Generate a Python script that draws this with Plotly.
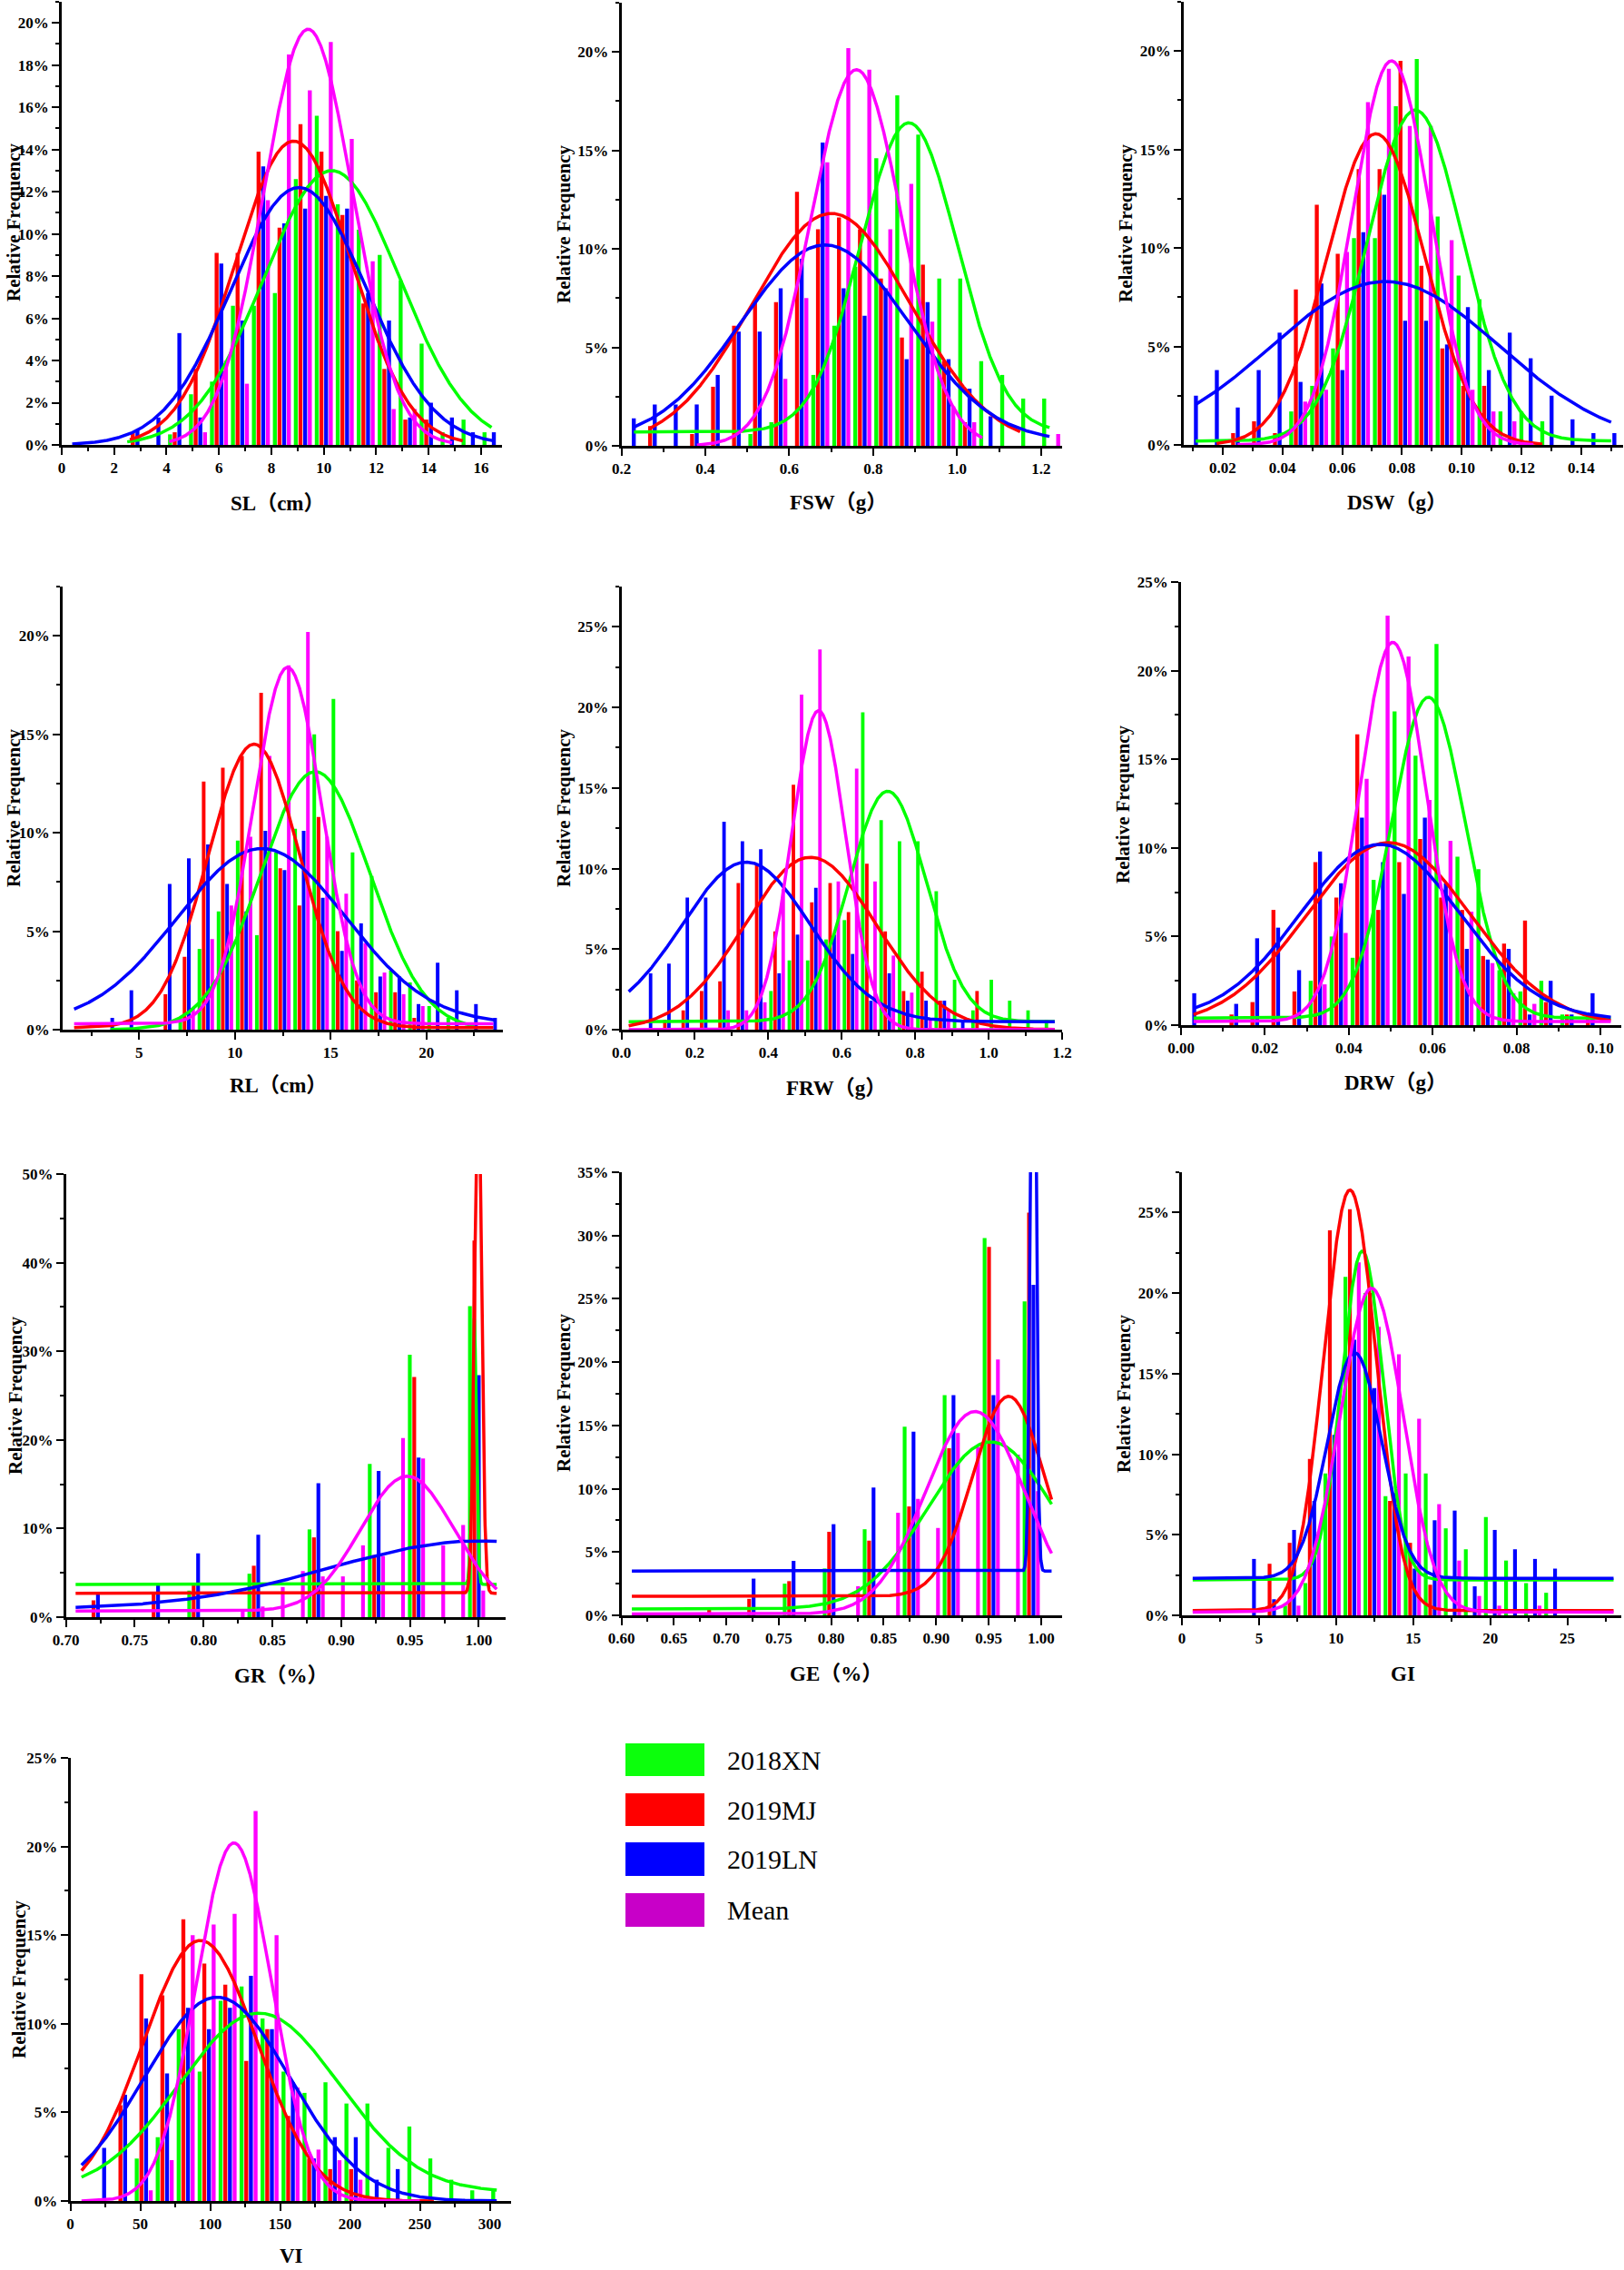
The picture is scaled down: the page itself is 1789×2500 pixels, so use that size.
import numpy as np
import plotly.graph_objects as go

SERIES = ["2018XN", "2019MJ", "2019LN", "Mean"]

# ---------------- data (relative frequency, %) ----------------
# SL (cm)
SL_BINS = [2.8, 3.6, 4.4, 5.2, 6.0, 6.8, 7.6, 8.4, 9.2, 10.0, 10.8, 11.6, 12.4, 13.2, 14.0, 14.8, 15.6, 16.4]
SL_XN = [0, 0, 0.5, 2.4, 3.0, 6.6, 6.6, 7.2, 12.6, 15.6, 11.4, 10.2, 9.0, 7.8, 4.8, 0.6, 1.2, 0.6]
SL_MJ = [0.6, 0, 0.6, 3.6, 9.1, 9.1, 13.9, 10.3, 15.2, 13.9, 10.9, 6.7, 3.6, 1.2, 1.2, 0, 0, 0]
SL_LN = [0.7, 1.3, 5.3, 1.3, 8.6, 5.9, 13.2, 10.5, 11.2, 11.8, 11.2, 7.2, 5.9, 1.3, 2.0, 1.3, 0.6, 0.6]
SL_MEAN = [0, 0, 0, 0.6, 4.0, 2.9, 11.6, 18.5, 16.8, 19.1, 14.5, 8.7, 1.7, 1.7, 0, 0, 0, 0]
# fitted normal curves: [baseline, height, centre, sd, x from, x to]
SL_FIT = [[0, 13.0, 10.3, 2.6, 2.5, 16.4], [0, 14.4, 8.85, 2.2, 2.6, 15.3],
          [0, 12.2, 9.05, 2.58, 0.4, 16.5], [0, 19.7, 9.4, 1.7, 4.1, 14.9]]

# FSW (g)
FSW_BINS = [0.224, 0.274, 0.324, 0.374, 0.424, 0.474, 0.524, 0.574, 0.624, 0.674, 0.724,
            0.774, 0.824, 0.874, 0.924, 0.974, 1.024, 1.074, 1.124, 1.174, 1.224]
FSW_XN = [0, 0, 0, 0, 0, 0, 0.6, 1.2, 0, 3.6, 6.1, 9.1, 14.6, 17.8, 15.8, 8.5, 8.5, 4.3, 3.6, 2.4, 2.4]
FSW_MJ = [0, 1.0, 0, 0.6, 3.0, 6.1, 7.3, 7.3, 12.9, 11.0, 11.6, 11.0, 8.5, 5.5, 9.2, 4.3, 1.2, 0, 0, 0, 0]
FSW_LN = [1.4, 2.1, 2.1, 2.1, 3.6, 5.8, 5.8, 8.0, 9.5, 15.4, 8.0, 6.6, 8.0, 4.4, 7.3, 4.4, 2.9, 1.5, 0, 0, 0]
FSW_MEAN = [0, 0, 0, 0, 0, 0, 0, 3.4, 7.5, 14.4, 20.2, 19.1, 11.0, 13.3, 6.3, 2.0, 1.2, 0, 0, 0, 0.6]
FSW_FIT = [[0.7, 15.7, 0.885, 0.115, 0.23, 1.22], [0, 11.8, 0.70, 0.19, 0.27, 1.15],
           [0.2, 10.0, 0.685, 0.20, 0.23, 1.22], [0, 19.1, 0.76, 0.108, 0.38, 1.06]]

# DSW (g)
DSW_BINS = [0.0103, 0.0173, 0.0243, 0.0313, 0.0383, 0.0453, 0.0523, 0.0593, 0.0663, 0.0733, 0.0803,
            0.0873, 0.0943, 0.1013, 0.1083, 0.1153, 0.1223, 0.1293, 0.1363, 0.1433, 0.1503]
DSW_XN = [0, 0, 0, 0, 0, 1.7, 3.0, 4.9, 10.5, 10.5, 17.2, 19.6, 11.6, 8.6, 7.4, 1.7, 1.7, 1.2, 0, 0, 0]
DSW_MJ = [0, 0, 0.6, 1.2, 0.6, 7.9, 12.2, 9.7, 14.0, 14.0, 19.5, 9.1, 4.9, 3.0, 3.0, 0, 0, 0, 0, 0, 0]
DSW_LN = [2.5, 3.8, 1.9, 3.8, 5.7, 3.2, 8.2, 3.8, 10.8, 12.7, 6.3, 6.3, 5.1, 7.0, 3.8, 5.7, 4.4, 2.5, 1.3, 0.6, 0.6]
DSW_MEAN = [0, 0, 0, 0, 0, 2.2, 2.8, 9.8, 17.4, 19.1, 16.2, 16.2, 10.4, 2.8, 1.7, 1.2, 0, 0, 0, 0, 0]
DSW_FIT = [[0.2, 16.8, 0.0845, 0.016, 0.011, 0.15], [0, 15.8, 0.0713, 0.0163, 0.018, 0.127],
           [0, 8.3, 0.0745, 0.038, 0.011, 0.15], [0, 19.5, 0.0765, 0.013, 0.025, 0.124]]

# RL (cm)
RL_BINS = [3.48, 4.48, 5.48, 6.48, 7.48, 8.48, 9.48, 10.48, 11.48, 12.48, 13.48,
           14.48, 15.48, 16.48, 17.48, 18.48, 19.48, 20.48, 21.48, 22.48, 23.48]
RL_XN = [0, 0, 0, 0, 0.6, 4.1, 6.0, 9.6, 4.8, 9.0, 10.2, 15.0, 16.8, 9.0, 7.8, 3.0, 2.4, 1.2, 0.6, 0, 0]
RL_MJ = [0, 0, 0, 1.8, 3.7, 12.6, 13.3, 13.9, 17.1, 8.2, 6.3, 10.8, 5.0, 2.5, 1.9, 1.9, 0.6, 0, 0, 0, 0]
RL_LN = [0.6, 2.0, 0, 7.4, 8.7, 9.4, 7.4, 6.0, 10.1, 8.1, 10.1, 6.7, 4.0, 5.4, 2.7, 2.7, 1.3, 3.4, 2.0, 1.3, 0.6]
RL_MEAN = [0, 0, 0, 0, 1.1, 4.6, 6.3, 9.8, 13.9, 18.5, 20.2, 9.8, 6.9, 4.4, 2.9, 1.8, 1.2, 0, 0, 0, 0]
RL_FIT = [[0, 13.1, 14.2, 2.85, 3.5, 22.5], [0.1, 14.4, 11.0, 2.4, 1.6, 23.5],
          [0.3, 8.9, 11.4, 4.4, 1.6, 23.6], [0.3, 18.1, 12.75, 1.8, 1.6, 23.5]]

# FRW (g)
FRW_BINS = [0.074, 0.124, 0.174, 0.224, 0.274, 0.324, 0.374, 0.424, 0.474, 0.524, 0.574, 0.624,
            0.674, 0.724, 0.774, 0.824, 0.874, 0.924, 0.974, 1.024, 1.074, 1.124, 1.174]
FRW_XN = [0, 0, 0, 0, 0, 0, 0, 2.4, 4.3, 4.3, 5.6, 6.8, 19.7, 13.0, 11.7, 11.7, 8.6, 3.1, 1.2, 3.1, 1.8, 1.2, 0.6]
FRW_MJ = [0, 0.6, 1.2, 2.4, 3.0, 9.1, 10.2, 6.1, 15.2, 7.9, 9.1, 7.3, 10.3, 6.1, 2.4, 3.6, 1.8, 0, 2.4, 0, 0, 0, 0]
FRW_LN = [3.5, 4.1, 8.2, 8.2, 12.9, 11.7, 11.2, 3.5, 5.9, 8.8, 5.9, 4.7, 1.8, 3.5, 1.8, 1.8, 1.8, 0.6, 0, 0, 0, 0, 0]
FRW_MEAN = [0, 0, 0, 0, 1.2, 1.2, 1.7, 8.7, 20.8, 23.6, 9.2, 16.2, 9.2, 4.6, 2.3, 0.6, 1.2, 0, 0, 0, 0, 0, 0]
FRW_FIT = [[0.5, 14.3, 0.725, 0.105, 0.02, 1.18], [0, 10.7, 0.515, 0.18, 0.02, 1.18],
           [0.5, 9.9, 0.34, 0.175, 0.02, 1.18], [0, 19.8, 0.537, 0.074, 0.02, 1.18]]

# DRW (g)
DRW_BINS = [0.0026, 0.0076, 0.0126, 0.0176, 0.0226, 0.0276, 0.0326, 0.0376, 0.0426, 0.0476,
            0.0526, 0.0576, 0.0626, 0.0676, 0.0726, 0.0776, 0.0826, 0.0876, 0.0926, 0.0976]
DRW_XN = [0, 0, 0, 0, 0, 0, 2.5, 5.0, 3.8, 8.2, 17.7, 15.2, 21.5, 9.5, 8.8, 3.1, 1.9, 2.5, 0.6, 0]
DRW_MJ = [0, 0, 0.6, 1.3, 6.5, 1.9, 9.2, 7.2, 16.4, 6.5, 9.2, 10.5, 7.2, 6.5, 3.9, 4.6, 5.9, 1.3, 0.6, 0.6]
DRW_LN = [1.8, 0, 1.2, 4.9, 5.5, 3.1, 9.8, 8.0, 11.7, 9.2, 7.4, 11.7, 8.0, 4.3, 3.7, 4.3, 0.6, 2.5, 0.6, 1.8]
DRW_MEAN = [0, 0, 0, 0, 0, 0, 2.3, 5.2, 13.9, 23.1, 20.8, 12.7, 10.4, 6.4, 3.5, 1.8, 1.2, 0, 0, 0]
DRW_FIT = [[0.4, 18.1, 0.059, 0.0088, 0.003, 0.1025], [0, 10.3, 0.0495, 0.0195, 0.003, 0.1025],
           [0.3, 9.9, 0.0475, 0.019, 0.003, 0.1025], [0.2, 21.4, 0.0505, 0.008, 0.003, 0.1025]]

# GR (%)
GR_BINS = [0.7216, 0.7362, 0.7507, 0.7653, 0.7799, 0.7944, 0.8090, 0.8236, 0.8381, 0.8527,
           0.8673, 0.8818, 0.8964, 0.9110, 0.9256, 0.9401, 0.9547, 0.9693, 0.9838, 0.9984]
GR_XN = [0, 0, 0, 0, 0, 3.0, 0, 0, 4.9, 0, 0, 9.9, 0, 0, 17.3, 0, 29.6, 0, 0, 35.1]
GR_MJ = [1.9, 0, 0, 2.6, 0, 3.6, 0, 0, 5.8, 0, 0, 9.0, 0, 0, 7.0, 0, 27.1, 0, 0, 42.5]
GR_LN = [2.6, 0, 0, 3.6, 0, 7.2, 0, 0, 9.3, 0, 0, 15.1, 0, 0, 16.5, 0, 18.0, 0, 0, 27.3]
GR_MEAN = [0, 0, 0, 0, 0, 0, 0, 0.7, 1.2, 3.4, 5.2, 4.6, 4.6, 8.1, 6.9, 20.2, 17.9, 8.1, 10.4, 3.0]
GR_FIT = [[3.7, 30.0, 0.9966, 0.0016, 0.707, 1.013], [2.7, 60.0, 0.9995, 0.0025, 0.707, 1.013],
          [0.9, 7.7, 1.0, 0.108, 0.707, 1.013], [0.7, 15.2, 0.948, 0.034, 0.707, 1.013]]

# GE (%)
GE_BINS = [0.6858, 0.7049, 0.7239, 0.7430, 0.7620, 0.7811, 0.8001, 0.8192, 0.8382,
           0.8573, 0.8763, 0.8954, 0.9144, 0.9335, 0.9525, 0.9716, 0.9906]
GE_XN = [0, 0, 0, 0, 2.5, 0, 3.7, 0, 6.8, 0, 14.9, 0, 17.4, 0, 29.8, 0, 24.8]
GE_MJ = [0.6, 0, 1.3, 0, 2.7, 0, 6.6, 0, 5.9, 0, 8.6, 0, 13.2, 0, 29.1, 0, 31.8]
GE_LN = [0, 0, 2.9, 0, 4.3, 0, 7.2, 0, 10.1, 0, 14.5, 0, 17.4, 0, 17.4, 0, 26.1]
GE_MEAN = [0, 0, 0, 0, 0, 0, 0, 2.3, 0, 8.1, 9.2, 6.9, 14.4, 13.3, 20.2, 12.7, 9.8]
GE_FIT = [[0.5, 13.2, 0.952, 0.06, 0.61, 1.01], [1.5, 15.8, 0.969, 0.034, 0.61, 1.01],
          [3.5, 60.0, 0.9925, 0.0025, 0.61, 1.01], [0.1, 16.0, 0.937, 0.047, 0.61, 1.01]]

# GI
GI_BINS = [4.53, 5.83, 7.13, 8.44, 9.74, 11.04, 12.34, 13.64, 14.95, 16.25, 17.55, 18.85, 20.15, 21.46, 22.76, 24.06]
GI_XN = [0, 0, 0.6, 2.0, 8.8, 21.0, 20.0, 7.4, 8.8, 8.8, 5.4, 4.1, 6.1, 3.4, 2.0, 1.4]
GI_MJ = [0, 3.2, 4.5, 9.7, 23.9, 25.2, 20.0, 7.1, 4.5, 1.9, 0, 0, 0, 0, 0, 0]
GI_LN = [3.5, 1.0, 5.3, 7.1, 11.2, 17.1, 14.1, 7.6, 2.9, 5.9, 6.5, 1.8, 5.3, 4.1, 3.5, 2.9]
GI_MEAN = [0, 0, 0.6, 5.2, 12.7, 21.9, 17.9, 16.2, 12.2, 6.9, 3.4, 1.2, 0.6, 0, 0.6, 0]
GI_FIT = [[2.2, 20.4, 11.7, 1.35, 0.7, 28.0], [0.3, 26.1, 10.9, 1.7, 0.7, 28.0],
          [2.3, 14.0, 11.2, 1.75, 0.7, 28.0], [0.2, 20.1, 12.3, 2.05, 0.7, 28.0]]

# VI
VI_BINS = [22.5, 37.5, 52.5, 67.5, 82.5, 97.5, 112.5, 127.5, 142.5, 157.5,
           172.5, 187.5, 202.5, 217.5, 232.5, 247.5, 262.5, 277.5, 292.5, 307.5]
VI_XN = [0, 0, 2.4, 3.6, 9.7, 7.3, 11.3, 12.1, 10.3, 7.3, 6.1, 6.7, 5.5, 5.5, 3.0, 4.2, 2.4, 1.2, 0.6, 0.6]
VI_MJ = [0, 5.4, 12.8, 11.6, 15.9, 13.4, 12.2, 7.9, 9.7, 4.8, 2.4, 1.8, 1.8, 0, 0, 0, 0, 0, 0, 0]
VI_LN = [3.0, 6.0, 10.3, 7.2, 10.9, 9.7, 10.9, 12.7, 9.7, 6.7, 2.4, 3.6, 3.6, 1.2, 1.8, 0, 0, 0, 0, 0]
VI_MEAN = [0, 0, 0.6, 2.3, 15.0, 15.6, 16.2, 22.0, 15.0, 6.4, 2.9, 2.3, 1.2, 0, 0, 0, 0, 0, 0, 0]
VI_FIT = [[0.5, 10.1, 135, 57, 8, 305], [0, 14.7, 93, 41, 8, 260],
          [0, 11.5, 105, 52, 8, 305], [0, 20.2, 117, 27, 8, 250]]

PANELS = [
    ("SL（cm）", SL_BINS, [SL_XN, SL_MJ, SL_LN, SL_MEAN], SL_FIT),
    ("FSW（g）", FSW_BINS, [FSW_XN, FSW_MJ, FSW_LN, FSW_MEAN], FSW_FIT),
    ("DSW（g）", DSW_BINS, [DSW_XN, DSW_MJ, DSW_LN, DSW_MEAN], DSW_FIT),
    ("RL（cm）", RL_BINS, [RL_XN, RL_MJ, RL_LN, RL_MEAN], RL_FIT),
    ("FRW（g）", FRW_BINS, [FRW_XN, FRW_MJ, FRW_LN, FRW_MEAN], FRW_FIT),
    ("DRW（g）", DRW_BINS, [DRW_XN, DRW_MJ, DRW_LN, DRW_MEAN], DRW_FIT),
    ("GR（%）", GR_BINS, [GR_XN, GR_MJ, GR_LN, GR_MEAN], GR_FIT),
    ("GE（%）", GE_BINS, [GE_XN, GE_MJ, GE_LN, GE_MEAN], GE_FIT),
    ("GI", GI_BINS, [GI_XN, GI_MJ, GI_LN, GI_MEAN], GI_FIT),
    ("VI", VI_BINS, [VI_XN, VI_MJ, VI_LN, VI_MEAN], VI_FIT),
]

# ---------------- styles / geometry ----------------
W, H = 1789, 2500
FONT = "Liberation Serif, Times New Roman, Noto Sans CJK SC, serif"
BAR_COLORS = ["#00FF00", "#FF0000", "#0000FF", "#FF00FF"]
LEGEND_COLORS = ["#0CFF0C", "#FF0000", "#0000FF", "#C800C8"]

# plot box in px: (left, right, top, bottom), axis ranges and ticks, title centres
GEOM = [
    dict(box=(68, 553, 2, 490), xr=[0, 16.8], yr=[0, 21], xd=2, x0=0, xm=1, xf="", yd=2, ym=1,
         xt=(306, 555), yt=(15, 245)),
    dict(box=(684.5, 1170, 3, 491), xr=[0.2, 1.25], yr=[0, 22.5], xd=0.2, x0=0, xm=0.1, xf=".1f", yd=5, ym=2.5,
         xt=(923, 553), yt=(621, 247)),
    dict(box=(1304, 1788, 2, 490), xr=[0.007, 0.154], yr=[0, 22.5], xd=0.02, x0=0, xm=0.01, xf=".2f", yd=5, ym=2.5,
         xt=(1539, 553), yt=(1240, 246)),
    dict(box=(69, 554, 646, 1134), xr=[1.0, 24.0], yr=[0, 22.5], xd=5, x0=0, xm=2.5, xf="", yd=5, ym=2.5,
         xt=(306, 1196), yt=(15, 890)),
    dict(box=(684.5, 1170, 646, 1134), xr=[0, 1.2], yr=[0, 27.5], xd=0.2, x0=0, xm=0.1, xf=".1f", yd=5, ym=2.5,
         xt=(921, 1198), yt=(621, 890)),
    dict(box=(1301, 1786, 641, 1129), xr=[0, 0.105], yr=[0, 25], xd=0.02, x0=0, xm=0.01, xf=".2f", yd=5, ym=2.5,
         xt=(1537, 1192), yt=(1237, 886)),
    dict(box=(72.7, 557, 1293, 1781), xr=[0.70, 1.0195], yr=[0, 50], xd=0.05, x0=0.7, xm=0.025, xf=".2f", yd=10, ym=5,
         xt=(310, 1845), yt=(17, 1537)),
    dict(box=(684.5, 1170, 1291, 1779), xr=[0.6, 1.02], yr=[0, 35], xd=0.05, x0=0.6, xm=0.025, xf=".2f", yd=5, ym=2.5,
         xt=(921, 1843), yt=(621, 1534)),
    dict(box=(1302, 1786, 1291, 1779), xr=[0, 28.5], yr=[0, 27.5], xd=5, x0=0, xm=2.5, xf="", yd=5, ym=2.5,
         xt=(1545, 1843), yt=(1238, 1535)),
    dict(box=(77.5, 562.6, 1936, 2424), xr=[0, 315], yr=[0, 25], xd=50, x0=0, xm=25, xf="", yd=5, ym=2.5,
         xt=(321, 2484), yt=(21, 2180)),
]

fig = go.Figure()
for i, (title, bins, vals, fits) in enumerate(PANELS, start=1):
    key = "" if i == 1 else str(i)
    for s in range(4):
        fig.add_trace(go.Bar(x=bins, y=vals[s], name=SERIES[s], marker=dict(color=BAR_COLORS[s], line=dict(width=0)),
                             xaxis="x" + key, yaxis="y" + key, showlegend=False, hoverinfo="skip"))
    for s in range(4):
        base, amp, cen, sd, xa, xb = fits[s]
        xs = np.linspace(xa, xb, 2000)
        ys = base + amp * np.exp(-0.5 * ((xs - cen) / sd) ** 2)
        fig.add_trace(go.Scatter(x=xs, y=ys, mode="lines", name=SERIES[s] + " fit",
                                 line=dict(color=BAR_COLORS[s], width=3.5),
                                 xaxis="x" + key, yaxis="y" + key, showlegend=False, hoverinfo="skip"))

tickfont = dict(family=FONT, size=17, color="black", weight="bold")
common = dict(showline=True, linecolor="black", linewidth=2.5, ticks="outside", ticklen=8, tickwidth=2,
              tickcolor="black", showgrid=False, zeroline=False, tickfont=tickfont, automargin=False)

layout = dict(width=W, height=H, margin=dict(l=0, r=0, t=0, b=0), plot_bgcolor="white", paper_bgcolor="white",
              barmode="group", bargap=0.11, bargroupgap=0.15, showlegend=False)
annotations = []
for i, g in enumerate(GEOM, start=1):
    key = "" if i == 1 else str(i)
    l, r, t, b = g["box"]
    xa = dict(common, domain=[l / W, r / W], anchor="y" + key, range=g["xr"], tick0=g["x0"], dtick=g["xd"],
              minor=dict(ticks="outside", ticklen=4, tickwidth=2, tickcolor="black", dtick=g["xm"], tick0=g["x0"],
                         showgrid=False))
    if g["xf"]:
        xa["tickformat"] = g["xf"]
    ya = dict(common, domain=[1 - b / H, 1 - t / H], anchor="x" + key, range=g["yr"], tick0=0, dtick=g["yd"],
              ticksuffix="%",
              minor=dict(ticks="outside", ticklen=4, tickwidth=2, tickcolor="black", dtick=g["ym"], tick0=0,
                         showgrid=False))
    layout["xaxis" + key] = xa
    layout["yaxis" + key] = ya
    title = PANELS[i - 1][0]
    annotations.append(dict(text=title, x=g["xt"][0] / W, y=1 - g["xt"][1] / H, xref="paper", yref="paper",
                            showarrow=False, xanchor="center", yanchor="middle",
                            font=dict(family=FONT, size=23, color="black", weight="bold")))
    annotations.append(dict(text="Relative Frequency", x=g["yt"][0] / W, y=1 - g["yt"][1] / H, xref="paper",
                            yref="paper", showarrow=False, xanchor="center", yanchor="middle", textangle=-90,
                            borderpad=0, font=dict(family=FONT, size=21, color="black", weight="bold")))

# legend swatches
shapes = []
LEG_ROWS = [(1920, 1956), (1975, 2011), (2029, 2066), (2085, 2122)]
for s, (y0, y1) in enumerate(LEG_ROWS):
    shapes.append(dict(type="rect", xref="paper", yref="paper", x0=689 / W, x1=776 / W, y0=1 - y1 / H, y1=1 - y0 / H,
                       fillcolor=LEGEND_COLORS[s], line=dict(width=0)))
    annotations.append(dict(text=SERIES[s], x=799 / W, y=1 - (y0 + y1) / 2 / H, xref="paper", yref="paper",
                            showarrow=False, xanchor="left", yanchor="middle",
                            font=dict(family=FONT, size=30, color="black")))

layout["annotations"] = annotations
layout["shapes"] = shapes
fig.update_layout(**layout)
fig.write_html("out.html", config={"displayModeBar": False},
               post_script="document.body.style.margin='0';")
